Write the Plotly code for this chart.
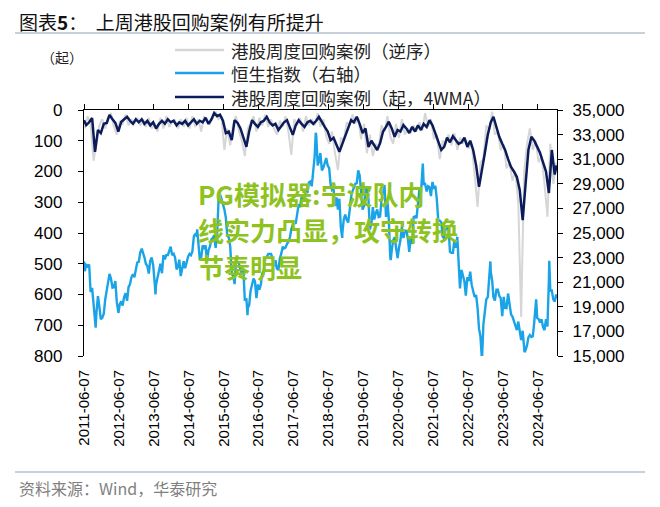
import pandas as pd
import plotly.graph_objects as go

# ---------------- data ----------------
tick_dates = [f"{y}-06-07" for y in range(2011, 2025)]
tick_labels = tick_dates

# Hang Seng index (right axis): month-end readings Jun-2011 .. Nov-2024
hsi_month_end = [
    22398, 22440, 20535, 17592, 19864, 17989, 18434,
    20390, 21680, 20556, 21094, 18630, 19441, 19796, 19482, 20840, 21642, 22030, 22657,
    23730, 23020, 22300, 22737, 22392, 20803, 21883, 21731, 22859, 23206, 23881, 23306,
    22035, 22837, 22151, 22134, 23082, 23191, 24757, 24742, 22933, 23998, 23987, 23605,
    24507, 24823, 24901, 28133, 27424, 26250, 24636, 21670, 20846, 22640, 21996, 21914,
    19683, 19112, 20777, 21067, 20815, 20794, 21891, 23023, 23297, 22935, 22790, 22001,
    23361, 23741, 24112, 24615, 25661, 25765, 27324, 27970, 27554, 28246, 29177, 29919,
    32887, 30845, 30093, 30808, 30469, 28955, 28583, 27888, 27789, 24980, 26507, 25846,
    27942, 28633, 29051, 29699, 26901, 28543, 27778, 25725, 26092, 26907, 26346, 28190,
    26313, 26130, 23603, 24644, 22961, 24427, 24595, 25177, 23459, 24107, 26341, 27231,
    28284, 28980, 28378, 28725, 29151, 28828, 25961, 25879, 24576, 25377, 23475, 23398,
    23802, 22713, 21997, 21089, 21415, 21860, 20157, 19954, 17223, 14687, 18597, 19781,
    21842, 19786, 20400, 19895, 18234, 18916, 20079, 18382, 17810, 17112, 17043, 17047,
    15485, 16511, 16541, 17763, 18080, 17719, 17345, 17989, 21134, 20317, 19424,
]
# Hang Seng index: mid-month readings Jun-2011 .. Dec-2024
hsi_mid_month = [
    21900, 22300, 20200, 18900, 18500, 19000, 18100,
    19600, 21300, 21300, 20600, 19400, 19200, 19100, 20100, 20600, 21400, 21400, 22600,
    23400, 23400, 22500, 21700, 23000, 21000, 21300, 22500, 23200, 23200, 23600, 23200,
    23000, 22300, 21500, 22700, 22700, 23300, 23500, 24900, 24400, 23000, 23800, 22700,
    23900, 24600, 23800, 27700, 27800, 26900, 24800, 23900, 21500, 22900, 22500, 21700,
    19500, 18900, 20300, 21300, 19700, 20400, 21700, 22900, 23300, 23300, 22300, 22100,
    22900, 23900, 23800, 24300, 25300, 25900, 26400, 27100, 28000, 28500, 29100, 28800,
    31300, 30500, 31500, 30300, 31100, 30300, 28500, 27200, 26900, 25500, 26100, 26100,
    26800, 28400, 29000, 30100, 28100, 27200, 28600, 25300, 27100, 26600, 26300, 27700,
    28900, 27600, 23100, 24400, 23800, 23800, 25500, 25200, 24600, 24600, 26300, 26200,
    28600, 30300, 29000, 28800, 28000, 28600, 27800, 26000, 24700, 25300, 25500, 23400,
    24400, 24700, 20500, 21500, 19900, 21100, 20800, 19800, 18900, 16600, 17600, 19600,
    21700, 21100, 19500, 20400, 19700, 19800, 18900, 19000, 18200, 17600, 17800, 16300,
    15900, 15900, 16700, 16600, 19400, 18000, 18000, 17100, 17400, 20300, 19600, 20000,
]
hsi_extra_dates = ["2011-06-07", "2011-10-07", "2012-06-01", "2013-06-24", "2014-09-03",
                   "2015-04-28", "2016-02-12", "2018-01-26", "2018-10-30", "2019-04-17",
                   "2020-03-20", "2021-02-19", "2023-01-27", "2024-01-19",
                   "2024-05-20", "2024-10-04", "2024-12-20"]
hsi_extra_values = [22700, 17300, 18500, 20000, 25300,
                    28100, 18320, 33154, 24600, 30000,
                    22800, 30644, 22689, 15308,
                    19600, 22737, 19700]

# Weekly buyback cases, 4-week moving average (left axis, reversed)
wma_start = 33
wma_month_end = [
    49, 40, 26, 136, 65, 75, 45,
    42, 16, 30, 42, 70, 39, 30, 22, 35, 45, 30, 40,
    30, 45, 35, 50, 40, 60, 45, 35, 45, 30, 40, 35,
    50, 40, 45, 35, 50, 40, 30, 45, 35, 40, 25, 45,
    30, 10, 20, 15, 35, 75, 70, 98, 33, 42, 60, 90,
    120, 70, 33, 45, 55, 40, 35, 22, 40, 50, 45, 65,
    50, 40, 33, 55, 81, 50, 33, 45, 55, 40, 35, 45,
    35, 22, 40, 55, 70, 98, 90, 115, 136, 110, 87, 60,
    33, 40, 22, 45, 75, 60, 120, 100, 115, 130, 108, 70,
    55, 38, 60, 87, 65, 70, 49, 60, 75, 55, 70, 50,
    65, 45, 55, 33, 50, 75, 100, 130, 120, 90, 105, 85,
    98, 110, 105, 90, 120, 100, 130, 180, 250, 200, 140, 80,
    40, 22, 60, 87, 110, 130, 160, 185, 200, 218, 260, 358,
    238, 130, 87, 100, 120, 140, 170, 200, 270, 130, 210,
]
wma_end = 180

# Weekly buyback cases (raw, inverse order), mid-month readings Jun-2011 .. Dec-2024
weekly_cases = [
    60, 20, 45, 165, 108, 50, 30,
    60, 25, 10, 55, 80, 35, 45, 15, 50, 30, 45, 25,
    50, 30, 55, 25, 60, 45, 70, 25, 60, 20, 55, 40,
    35, 60, 30, 55, 25, 60, 20, 55, 30, 70, 20, 40,
    45, 25, 5, 30, 20, 130, 60, 115, 45, 20, 70, 100,
    150, 60, 45, 20, 70, 25, 50, 15, 55, 30, 60, 80,
    35, 55, 20, 70, 146, 30, 50, 25, 70, 20, 50, 30,
    50, 10, 55, 30, 85, 110, 70, 140, 195, 90, 100, 40,
    50, 15, 45, 25, 95, 45, 140, 80, 150, 110, 120, 50,
    70, 20, 85, 110, 45, 90, 30, 80, 60, 75, 50, 70,
    40, 65, 10, 55, 30, 95, 80, 160, 100, 110, 80, 115,
    75, 130, 90, 110, 95, 125, 110, 210, 315, 170, 160, 50,
    65, 5, 80, 70, 130, 110, 190, 170, 230, 200, 300, 673,
    200, 110, 60, 130, 100, 170, 150, 240, 347, 110, 240, 170,
]

legend_names = ["港股周度回购案例（逆序）", "恒生指数（右轴）", "港股周度回购案例（起，4WMA）"]

# ---------------- build series ----------------
try:
    month_ends = pd.date_range("2011-06-30", periods=len(hsi_month_end), freq="ME")
except Exception:
    month_ends = pd.date_range("2011-06-30", periods=len(hsi_month_end), freq="M")
mid_months = pd.date_range("2011-06-01", periods=len(hsi_mid_month), freq="MS") + pd.Timedelta(days=14)

hsi = pd.concat([
    pd.Series(hsi_month_end, index=month_ends),
    pd.Series(hsi_mid_month, index=mid_months),
    pd.Series(hsi_extra_values, index=pd.to_datetime(hsi_extra_dates)),
]).sort_index()
hsi = hsi[~hsi.index.duplicated(keep="last")]

wma_dates = [pd.Timestamp("2011-06-07")] + list(month_ends) + [pd.Timestamp("2024-12-20")]
wma_vals = [wma_start] + wma_month_end + [wma_end]

weekly_dates = pd.date_range("2011-06-01", periods=len(weekly_cases), freq="MS") + pd.Timedelta(days=14)

GRAY = "#D6D6D6"
BLUE = "#1AA3E6"
NAVY = "#0C1C5A"

fig = go.Figure()
fig.add_trace(go.Scatter(x=weekly_dates, y=weekly_cases, mode="lines",
                         line=dict(color=GRAY, width=2), name=legend_names[0]))
fig.add_trace(go.Scatter(x=hsi.index, y=hsi.values, mode="lines", yaxis="y2",
                         line=dict(color=BLUE, width=2.4), name=legend_names[1]))
fig.add_trace(go.Scatter(x=wma_dates, y=wma_vals, mode="lines",
                         line=dict(color=NAVY, width=2.5), name=legend_names[2]))
# helper trace so the top tick axis is drawn
fig.add_trace(go.Scatter(x=["2011-06-07", "2024-12-20"], y=[0, 0], xaxis="x2", mode="lines",
                         line=dict(color="rgba(0,0,0,0)"), hoverinfo="skip", showlegend=False))

# the page body adds an 8px margin, so the figure is drawn 8px smaller and all
# target pixel positions are shifted by that offset
OFF = 8
W, H = 660 - OFF, 507 - OFF
L, R, T, B = 84 - OFF, 557 - OFF, 110 - OFF, 356 - OFF
def px(x): return (x - OFF - L) / (R - L)
def py(y): return (B - (y - OFF)) / (B - T)

num_font = dict(family="Liberation Sans, Arial, sans-serif", size=17, color="#000")
xrange_ = ["2011-06-07", "2024-12-24"]

fig.update_layout(
    width=W, height=H, showlegend=False,
    margin=dict(l=L, r=W - R, t=T, b=H - B, pad=0, autoexpand=False),
    paper_bgcolor="white", plot_bgcolor="white",
    xaxis=dict(type="date", range=xrange_, tickvals=tick_dates, ticktext=tick_labels,
               tickangle=-90, showline=False, showgrid=False, zeroline=False, automargin=False,
               ticks="", ticklabelstandoff=10,
               tickfont=dict(family="Liberation Sans, Arial, sans-serif", size=15, color="#000")),
    xaxis2=dict(type="date", range=xrange_, overlaying="x", side="top", anchor="y",
                tickvals=tick_dates, showticklabels=False, showline=True, linecolor="#000",
                linewidth=1.3, ticks="outside", ticklen=5, tickcolor="#000", showgrid=False,
                zeroline=False, automargin=False),
    yaxis=dict(range=[800, 0], tickvals=list(range(0, 801, 100)), showline=True,
               linecolor="#000", linewidth=1.3, ticks="outside", ticklen=5, tickcolor="#000",
               showgrid=False, zeroline=False, tickfont=num_font, ticklabelstandoff=12,
               automargin=False),
    yaxis2=dict(range=[15000, 35000], tickvals=list(range(15000, 35001, 2000)),
                tickformat=",", overlaying="y", side="right", anchor="x", showline=True,
                linecolor="#000", linewidth=1.3, ticks="outside", ticklen=5,
                tickcolor="#000", showgrid=False, zeroline=False, tickfont=num_font,
                ticklabelstandoff=6, automargin=False),
)

cjk = "Noto Sans CJK SC, sans-serif"
annotations = []
shapes = []

# title
annotations.append(dict(x=px(17), y=py(21), xref="paper", yref="paper", xanchor="left",
                        yanchor="middle", showarrow=False,
                        text="图表<b>5</b>：  上周港股回购案例有所提升",
                        font=dict(family=cjk, size=19, color="#111")))
shapes.append(dict(type="line", xref="paper", yref="paper", x0=px(15), x1=px(645),
                   y0=py(33), y1=py(33), line=dict(color="#8FA3B8", width=1.2)))
# footer
shapes.append(dict(type="line", xref="paper", yref="paper", x0=px(15), x1=px(645),
                   y0=py(472), y1=py(472), line=dict(color="#8FA3B8", width=1.2)))
annotations.append(dict(x=px(17), y=py(488), xref="paper", yref="paper", xanchor="left",
                        yanchor="middle", showarrow=False, text="资料来源：Wind，华泰研究",
                        font=dict(family=cjk, size=16, color="#7F7F7F")))
# unit label
annotations.append(dict(x=px(62), y=py(57), xref="paper", yref="paper", xanchor="center",
                        yanchor="middle", showarrow=False, text="（起）",
                        font=dict(family=cjk, size=14, color="#222")))
# legend
for name, color, yy in zip(legend_names, [GRAY, BLUE, NAVY], [50, 73, 97]):
    shapes.append(dict(type="line", xref="paper", yref="paper", x0=px(175), x1=px(224),
                       y0=py(yy), y1=py(yy), line=dict(color=color, width=2.5)))
    annotations.append(dict(x=px(229), y=py(yy), xref="paper", yref="paper", xanchor="left",
                            yanchor="middle", showarrow=False, text=name,
                            font=dict(family=cjk, size=17.5, color="#222")))
# overlay text
for txt, yy in zip(["PG模拟器:宁波队内", "线实力凸显，攻守转换", "节奏明显"], [193, 229, 266]):
    annotations.append(dict(x=px(196), y=py(yy), xref="paper", yref="paper", xanchor="left",
                            yanchor="middle", showarrow=False, text=f"<b>{txt}</b>",
                            font=dict(family=cjk, size=26, color="#8DC21F")))

fig.update_layout(annotations=annotations, shapes=shapes)
fig.write_html("out.html")
